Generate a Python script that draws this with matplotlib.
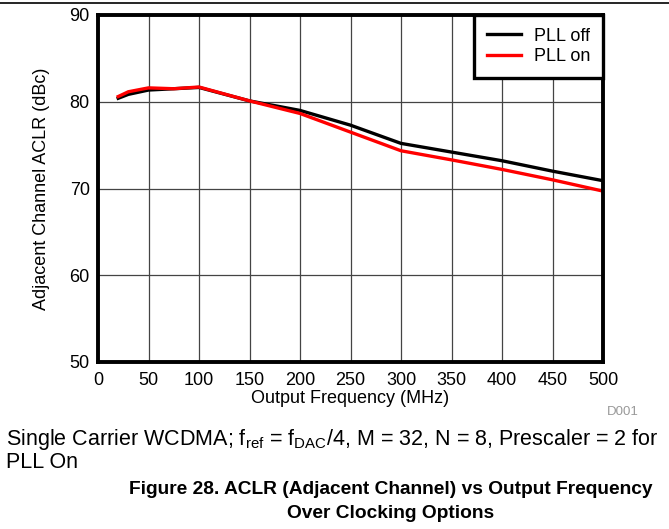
import matplotlib
matplotlib.use("Agg")
import matplotlib.pyplot as plt

plt.rcParams['font.family'] = ['Liberation Sans', 'DejaVu Sans']

freq = [20, 30, 50, 75, 100, 150, 200, 250, 300, 350, 400, 450, 500]
pll_off = [80.4, 80.85, 81.35, 81.5, 81.65, 80.1, 79.0, 77.3, 75.2, 74.2, 73.2, 72.0, 70.9]
pll_on = [80.6, 81.15, 81.6, 81.5, 81.7, 80.1, 78.65, 76.5, 74.35, 73.3, 72.2, 71.0, 69.7]

xticks = list(range(0, 501, 50))
yticks = [50, 60, 70, 80, 90]

fig = plt.figure(figsize=(6.69, 5.29), dpi=100)
ax = fig.add_axes([98/669, 1-362/529, (603-98)/669, (362-15)/529])

ax.plot(freq, pll_off, color='black', lw=2.4, label='PLL off')
ax.plot(freq, pll_on, color='#ff0000', lw=2.4, label='PLL on')

ax.set_xlim(0, 500)
ax.set_ylim(50, 90)
ax.set_xticks(xticks)
ax.set_yticks(yticks)
ax.grid(True, color='#444444', lw=0.9)
ax.tick_params(length=0, labelsize=13)
ax.tick_params(axis='x', pad=7)
ax.tick_params(axis='y', pad=6)
for s in ax.spines.values():
    s.set_linewidth(2.8)

ax.set_xlabel('Output Frequency (MHz)', fontsize=13, labelpad=1)
ax.set_ylabel('Adjacent Channel ACLR (dBc)', fontsize=13, labelpad=14)

leg = ax.legend(loc='upper right', fontsize=13, frameon=True, fancybox=False,
                borderaxespad=0, handlelength=1.9, handletextpad=0.7,
                labelspacing=0.2, borderpad=0.7)
leg.get_frame().set_edgecolor('black')
leg.get_frame().set_linewidth(2.4)
leg.get_frame().set_alpha(1)

fig.text(623/669, 1-412/529, 'D001', color='#999999', fontsize=9.5, ha='center', va='center')

# page rule at the top
fig.add_artist(plt.Line2D([0, 1], [1-3/529, 1-3/529], color='black', lw=1.2))

fig.text(6/669, 1-440/529, r'Single Carrier WCDMA; f$_{\mathregular{ref}}$ = f$_{\mathregular{DAC}}$/4, M = 32, N = 8, Prescaler = 2 for',
         fontsize=15.5, ha='left', va='center')
fig.text(6/669, 1-463/529, 'PLL On', fontsize=15.5, ha='left', va='center')
fig.text(391/669, 1-489/529, 'Figure 28. ACLR (Adjacent Channel) vs Output Frequency',
         fontsize=13.8, weight='bold', ha='center', va='center')
fig.text(391/669, 1-513/529, 'Over Clocking Options',
         fontsize=13.8, weight='bold', ha='center', va='center')

fig.savefig('out.png', dpi=100)
